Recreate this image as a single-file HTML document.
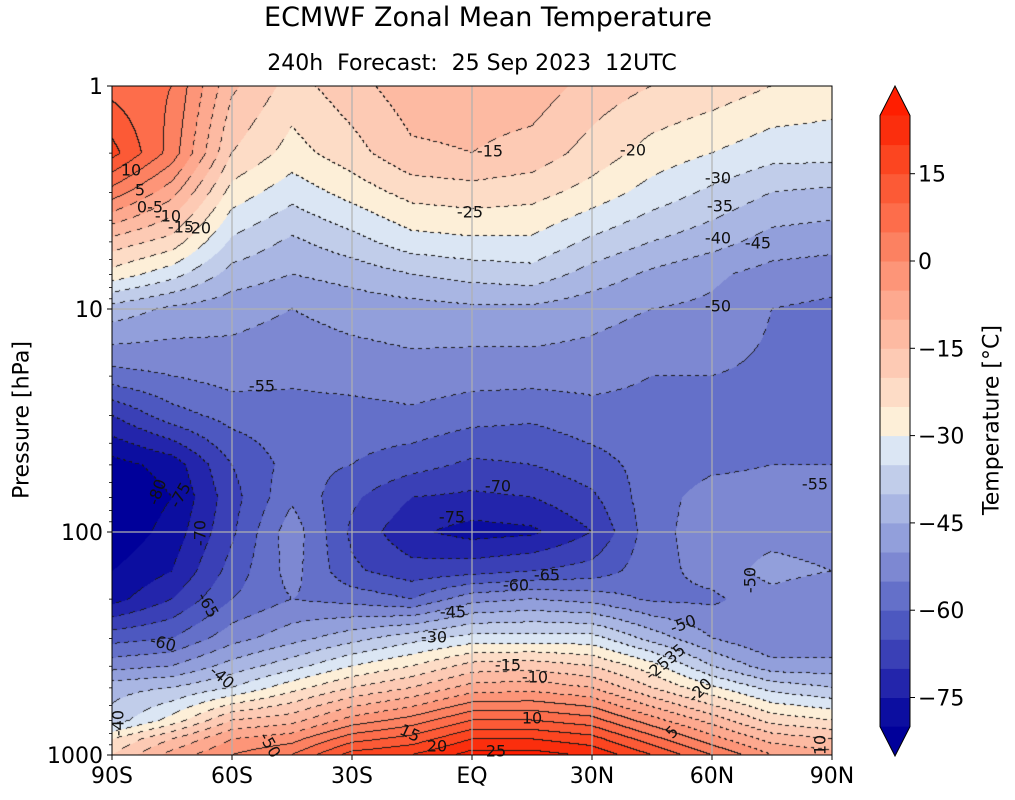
<!DOCTYPE html>
<html><head><meta charset="utf-8">
<style>
body{margin:0;background:#fff;width:1015px;height:800px;overflow:hidden;font-family:"DejaVu Sans","Liberation Sans",sans-serif;}
#root{position:relative;width:1015px;height:800px;}
.t{position:absolute;white-space:nowrap;color:#000;}
.cl{position:absolute;white-space:nowrap;font-size:16px;transform:translate(-50%,-50%);color:#111;}
</style></head>
<body>
<div id="root">
<div class="t" style="left:0;width:976px;top:2px;text-align:center;font-size:27px;">ECMWF Zonal Mean Temperature</div>
<div class="t" style="left:0;width:944px;top:51px;text-align:center;font-size:22px;">240h&nbsp; Forecast:&nbsp; 25 Sep 2023&nbsp; 12UTC</div>
<canvas id="plot" width="720" height="669" style="position:absolute;left:112px;top:86px;"></canvas>
<svg id="ov" width="1015" height="800" style="position:absolute;left:0;top:0;"></svg>
<div class="t" style="left:22px;top:420px;font-size:22px;transform:translate(-50%,-50%) rotate(-90deg);">Pressure [hPa]</div>
<div class="t" style="left:992px;top:420px;font-size:22px;transform:translate(-50%,-50%) rotate(-90deg);">Temperature [°C]</div>
<div id="labels"></div>
</div>
<script>
const lats=[-90,-75,-60,-45,-30,-15,0,15,30,45,60,75,90];
const plevs=[1,2,3,5,7,10,20,30,50,70,100,150,200,300,400,500,700,850,1000];
// temperature [°C] per latitude column, ordered by plevs
const tS90=[8,17,3,-17,-27,-42,-57,-70,-82,-85,-84,-80,-77,-62,-52,-42,-38,-25,-20];
const tS75=[5,3,-8,-22,-33,-46,-55,-62,-78,-80,-78,-75,-70,-60,-50,-40,-28,-15,-8];
const tS60=[-14,-20,-27,-36,-42,-48,-53,-58,-65,-67,-66,-63,-60,-52,-43,-35,-15,-5,0];
const tS45=[-22,-27,-33,-41,-45,-50,-54,-57,-58,-56,-52,-53,-55,-47,-37,-27,-12,-2,5];
const tS30=[-17,-22,-28,-37,-43,-48,-53,-57,-60,-64,-66,-64,-57,-42,-30,-20,-3,8,17];
const tS15=[-12,-16,-23,-32,-40,-47,-52,-56,-63,-70,-74,-68,-60,-37,-25,-15,2,12,20];
const tEQ=[-12,-15,-22,-31,-38,-46,-53,-58,-66,-71,-77,-67,-52,-33,-18,-8,10,20,27];
const tN15=[-12,-17,-23,-31,-37,-46,-53,-59,-65,-70,-76,-65,-50,-33,-17,-7,10,20,27];
const tN30=[-17,-22,-27,-36,-42,-48,-53,-57,-62,-66,-70,-63,-52,-33,-20,-10,7,17,24];
const tN45=[-20,-27,-32,-40,-46,-50,-55,-57,-58,-57,-57,-57,-56,-42,-28,-20,-3,7,15];
const tN60=[-22,-30,-36,-43,-49,-51,-55,-57,-56,-53,-52,-53,-56,-50,-40,-29,-12,-3,5];
const tN75=[-25,-33,-40,-47,-52,-55,-56,-57,-55,-53,-52,-48,-52,-55,-48,-37,-22,-12,-5];
const tN90=[-27,-33,-41,-48,-53,-56,-58,-57,-55,-53,-53,-50,-55,-55,-48,-40,-25,-15,-8];
const columns=[tS90,tS75,tS60,tS45,tS30,tS15,tEQ,tN15,tN30,tN45,tN60,tN75,tN90];
const levels=[-80,-75,-70,-65,-60,-55,-50,-45,-40,-35,-30,-25,-20,-15,-10,-5,0,5,10,15,20,25];
const colors=["#0c0ea0","#2325ab","#3a40b6","#4d58c0","#6470c9","#7d88d2","#929fdb","#a9b6e3","#c1cdea","#dbe6f4","#fdefd8","#fddcc6","#fdcab4","#fdbaa2","#fda98f","#fd9578","#fc8161","#fd6d4b","#fc5a36","#fc4520","#fb2e0d"];
const underColor="#00009a", overColor="#ff1e00";
const xTicks=[-90,-60,-30,0,30,60,90];
const xTickLabels=["90S","60S","30S","EQ","30N","60N","90N"];
const yTicks=[1,10,100,1000];
const cbTicks=[15,0,-15,-30,-45,-60,-75];

const PL=112,PT=86,PW=720,PH=669;
const FONT='DejaVu Sans, Liberation Sans, sans-serif';
const FS=22;
const xOf=lat=>PL+(lat+90)/180*PW;
const yOf=p=>PT+Math.log10(p)/3*PH;
const cbY=T=>261-T*5.82;
const lp=plevs.map(p=>Math.log10(p));
function field(lat,l){
  let i=0;while(i<lats.length-2&&lat>lats[i+1])i++;
  let j=0;while(j<lp.length-2&&l>lp[j+1])j++;
  const fx=Math.min(1,Math.max(0,(lat-lats[i])/(lats[i+1]-lats[i])));
  const fy=Math.min(1,Math.max(0,(l-lp[j])/(lp[j+1]-lp[j])));
  const a=columns[i][j],b=columns[i+1][j],c=columns[i][j+1],d=columns[i+1][j+1];
  return (a*(1-fx)+b*fx)*(1-fy)+(c*(1-fx)+d*fx)*fy;
}
function band(T){let b=-1;for(let k=0;k<levels.length;k++)if(T>=levels[k])b=k;return b;}
function hex(c){return [parseInt(c.substr(1,2),16),parseInt(c.substr(3,2),16),parseInt(c.substr(5,2),16)];}
function bandColor(b){if(b<0)return hex(underColor);if(b>=colors.length)return hex(overColor);return hex(colors[b]);}
const cv=document.getElementById('plot'),ctx=cv.getContext('2d');
const img=ctx.createImageData(PW,PH);
const B=new Int16Array(PW*PH);
for(let y=0;y<PH;y++)for(let x=0;x<PW;x++){
  const T=field(-90+(x+0.5)/PW*180,(y+0.5)/PH*3);
  B[y*PW+x]=band(T);
}
for(let y=0;y<PH;y++)for(let x=0;x<PW;x++){
  const b=B[y*PW+x];let col=bandColor(b);
  const r=x<PW-1?B[y*PW+x+1]:b, d=y<PH-1?B[(y+1)*PW+x]:b;
  if(r!==b||d!==b){
    const lvl=levels[Math.max(b,r!==b?r:d)]??25;
    const dash=lvl<0?(((x+y)>>2)%2===0):true;
    if(dash)col=[25,25,25];
  }
  const o=(y*PW+x)*4;img.data[o]=col[0];img.data[o+1]=col[1];img.data[o+2]=col[2];img.data[o+3]=255;
}
ctx.putImageData(img,0,0);

const NS='http://www.w3.org/2000/svg',ov=document.getElementById('ov');
function mk(tag,attrs){const e=document.createElementNS(NS,tag);for(const k in attrs)e.setAttribute(k,attrs[k]);ov.appendChild(e);return e;}
xTicks.slice(1,-1).forEach(v=>{const e=mk('line',{x1:xOf(v),x2:xOf(v),y1:PT,y2:PT+PH,stroke:'#b0b0b0','stroke-width':1.2});

});
[10,100].forEach(v=>{const e=mk('line',{x1:PL,x2:PL+PW,y1:yOf(v),y2:yOf(v),stroke:'#b0b0b0','stroke-width':1.2});

});
const fr=mk('rect',{x:PL,y:PT,width:PW,height:PH,fill:'none',stroke:'#000','stroke-width':1});


xTicks.forEach((v,i)=>{
  mk('line',{x1:xOf(v),x2:xOf(v),y1:PT+PH,y2:PT+PH+5,stroke:'#000'});
  const t=mk('text',{x:xOf(v),y:PT+PH+28,'text-anchor':'middle','font-size':FS,'font-family':FONT});
  t.textContent=xTickLabels[i];
  
  
});
for(let dec=1;dec<=100;dec*=10)for(let m=2;m<=9;m++)mk('line',{x1:PL-3,x2:PL,y1:yOf(dec*m),y2:yOf(dec*m),stroke:'#000','stroke-width':0.8});
yTicks.forEach(v=>{
  mk('line',{x1:PL-5,x2:PL,y1:yOf(v),y2:yOf(v),stroke:'#000'});
  const t=mk('text',{x:PL-9,y:yOf(v)+8,'text-anchor':'end','font-size':FS,'font-family':FONT});
  t.textContent=String(v);
  
  
});
const CX=880,CW=30;
for(let k=0;k<colors.length;k++){
  const r=mk('rect',{x:CX,y:cbY(levels[k+1]),width:CW,height:cbY(levels[k])-cbY(levels[k+1])+0.5,fill:colors[k]});
  
  
}
const topY=cbY(levels[levels.length-1]),botY=cbY(levels[0]);
const tu=mk('polygon',{points:`${CX},${topY} ${CX+CW/2},${PT} ${CX+CW},${topY}`,fill:overColor});


const td=mk('polygon',{points:`${CX},${botY} ${CX+CW/2},${PT+PH+1} ${CX+CW},${botY}`,fill:underColor});


mk('polygon',{points:`${CX},${topY} ${CX+CW/2},${PT} ${CX+CW},${topY} ${CX+CW},${botY} ${CX+CW/2},${PT+PH+1} ${CX},${botY}`,fill:'none',stroke:'#000','stroke-width':1});
cbTicks.forEach(v=>{
  mk('line',{x1:CX+CW,x2:CX+CW+5,y1:cbY(v),y2:cbY(v),stroke:'#000'});
  const t=mk('text',{x:CX+CW+8,y:cbY(v)+8,'font-size':FS,'font-family':FONT});
  t.textContent=v<0?'\u2212'+(-v):String(v);
  
  
});
const cl=[["-15",490,151,0],["-20",633,150,0],["-25",470,212,0],["-30",718,178,0],["-35",720,206,0],["-40",718,238,0],["-45",758,243,0],["-50",718,306,0],["-55",262,386,0],["-55",815,484,0],["-70",498,486,0],["-75",452,517,0],["-65",547,575,0],["-60",516,585,0],["-45",453,612,0],["-30",434,637,0],["-50",683,624,-20],["-15",508,665,0],["-10",535,677,0],["10",532,718,0],["15",410,733,25],["20",437,746,0],["25",496,751,0],["5",672,732,-45],["-20",700,690,-45],["-2535",665,662,-40],["-40",222,677,40],["-60",163,643,15],["-65",208,605,60],["-70",200,533,-90],["-75",180,495,-60],["-80",157,492,-70],["10",131,170,0],["5",140,190,0],["0-5",150,207,0],["-10",168,216,0],["-15",181,227,0],["-20",198,228,0],["-40",118,723,-90],["-50",270,745,60],["-50",750,580,-90],["10",820,745,-90]];
const L=document.getElementById('labels');
cl.forEach(c=>{const d=document.createElement('div');d.className='cl';d.textContent=c[0];
d.style.left=c[1]+'px';d.style.top=c[2]+'px';d.style.transform='translate(-50%,-50%) rotate('+c[3]+'deg)';


L.appendChild(d);});
</script>
</body></html>
